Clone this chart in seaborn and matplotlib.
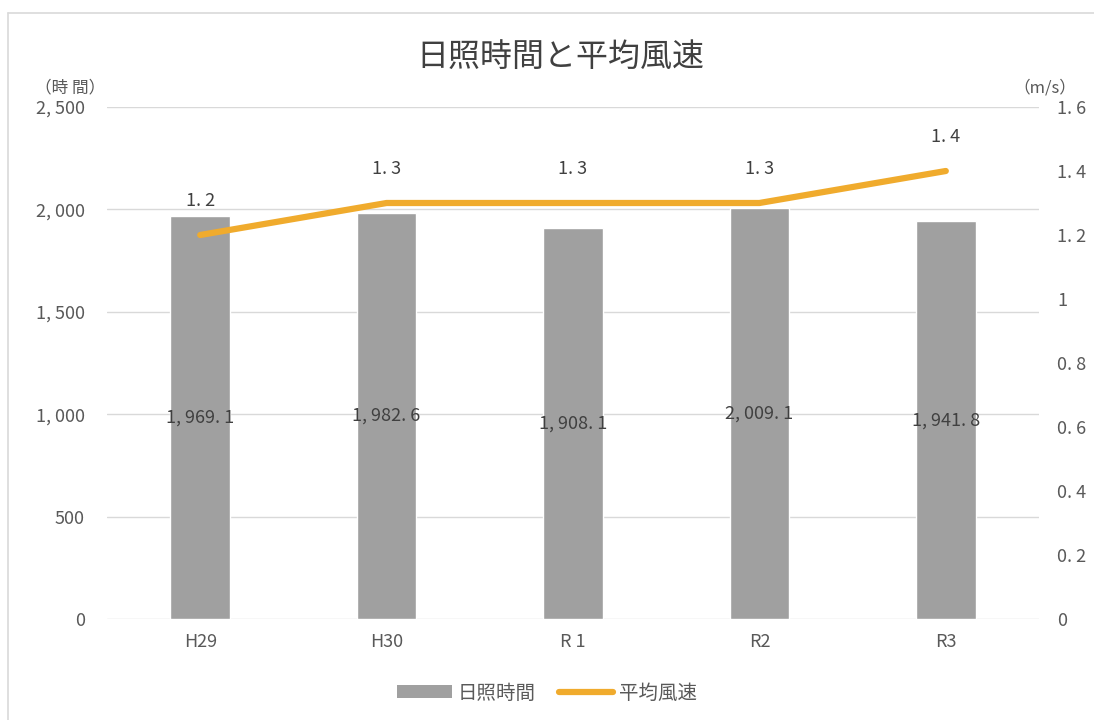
import matplotlib
matplotlib.use("Agg")
import matplotlib.pyplot as plt
import seaborn as sns
import pandas as pd
from matplotlib.lines import Line2D
from matplotlib.patches import Patch

years = ["H29", "H30", "R 1", "R2", "R3"]
sunshine_hours = [1969.1, 1982.6, 1908.1, 2009.1, 1941.8]
wind_speed = [1.2, 1.3, 1.3, 1.3, 1.4]
left_ticks = [0, 500, 1000, 1500, 2000, 2500]
right_ticks = [0, 0.2, 0.4, 0.6, 0.8, 1.0, 1.2, 1.4, 1.6]

sns.set_theme(style="white")
plt.rcParams['font.family'] = ['Noto Sans CJK JP', 'DejaVu Sans']

df = pd.DataFrame({"year": years, "hours": sunshine_hours, "wind": wind_speed})

BAR = "#a0a0a0"
LINE = "#f0ab2d"
TXT = "#595959"

fig = plt.figure(figsize=(10.94, 7.2), dpi=100)
ax = fig.add_axes([107/1094, 1-619/720, (1039-107)/1094, (619-107)/720])

sns.barplot(data=df, x="year", y="hours", color=BAR, width=0.32, ax=ax,
            saturation=1, zorder=2)
ax.set_ylim(0, 2500)
ax.set_yticks(left_ticks)
ax.set_yticklabels([f"{v:,}".replace(",", ", ") for v in left_ticks])
ax.yaxis.grid(True, color="#d9d9d9", linewidth=1)
ax.set_axisbelow(True)
for s in ax.spines.values():
    s.set_visible(False)
ax.set_xlabel("")
ax.set_ylabel("")
ax.tick_params(axis="both", length=0, labelsize=13, colors=TXT)
ax.tick_params(axis="y", pad=16)
ax.tick_params(axis="x", pad=10)

for i, v in enumerate(sunshine_hours):
    ax.text(i, v / 2, f"{v:,.1f}".replace(",", ", ").replace(".", ". "),
            ha="center", va="center", fontsize=13, color="#404040", zorder=5)

ax2 = ax.twinx()
sns.lineplot(x=list(range(len(years))), y=wind_speed, color=LINE, linewidth=4.5,
             ax=ax2, zorder=4)
ax2.set_ylim(0, 1.6)
ax2.set_yticks(right_ticks)
ax2.set_yticklabels([f"{v:g}".replace(".", ". ") for v in right_ticks])
ax2.tick_params(axis="y", length=0, labelsize=13, colors=TXT, pad=13)
for s in ax2.spines.values():
    s.set_visible(False)
ax2.set_ylabel("")
ax.set_xlim(-0.5, len(years) - 0.5)
ax2.set_xlim(-0.5, len(years) - 0.5)

for i, v in enumerate(wind_speed):
    ax2.annotate(f"{v:.1f}".replace(".", ". "), (i, v), xytext=(0, 18),
                 textcoords="offset points", ha="center", va="bottom",
                 fontsize=13, color="#404040")

fig.text(0.512, 1-57/720, "日照時間と平均風速", ha="center", va="center",
         fontsize=23, color="#404040")
fig.text(70/1094, 1-88/720, "（時 間）", ha="center", va="center",
         fontsize=12, color=TXT)
fig.text(1045/1094, 1-88/720, "（m/s）", ha="center", va="center",
         fontsize=12, color=TXT)

handles = [Patch(facecolor=BAR, edgecolor="none"),
           Line2D([0], [0], color=LINE, linewidth=4.5)]
fig.legend(handles, ["日照時間", "平均風速"], loc="center",
           bbox_to_anchor=(0.5, 1-693/720), ncol=2, frameon=False,
           fontsize=14, handlelength=2.8, handleheight=0.6, columnspacing=1.2,
           handletextpad=0.3, labelcolor=TXT)

# outer chart frame (top and left edges visible in reference)
fig.add_artist(Line2D([8/1094, 1.0], [1-13/720, 1-13/720], color="#d9d9d9",
                      linewidth=1.2, transform=fig.transFigure))
fig.add_artist(Line2D([8/1094, 8/1094], [0, 1-13/720], color="#d9d9d9",
                      linewidth=1.2, transform=fig.transFigure))

fig.savefig("out.png", dpi=100, facecolor="white")
